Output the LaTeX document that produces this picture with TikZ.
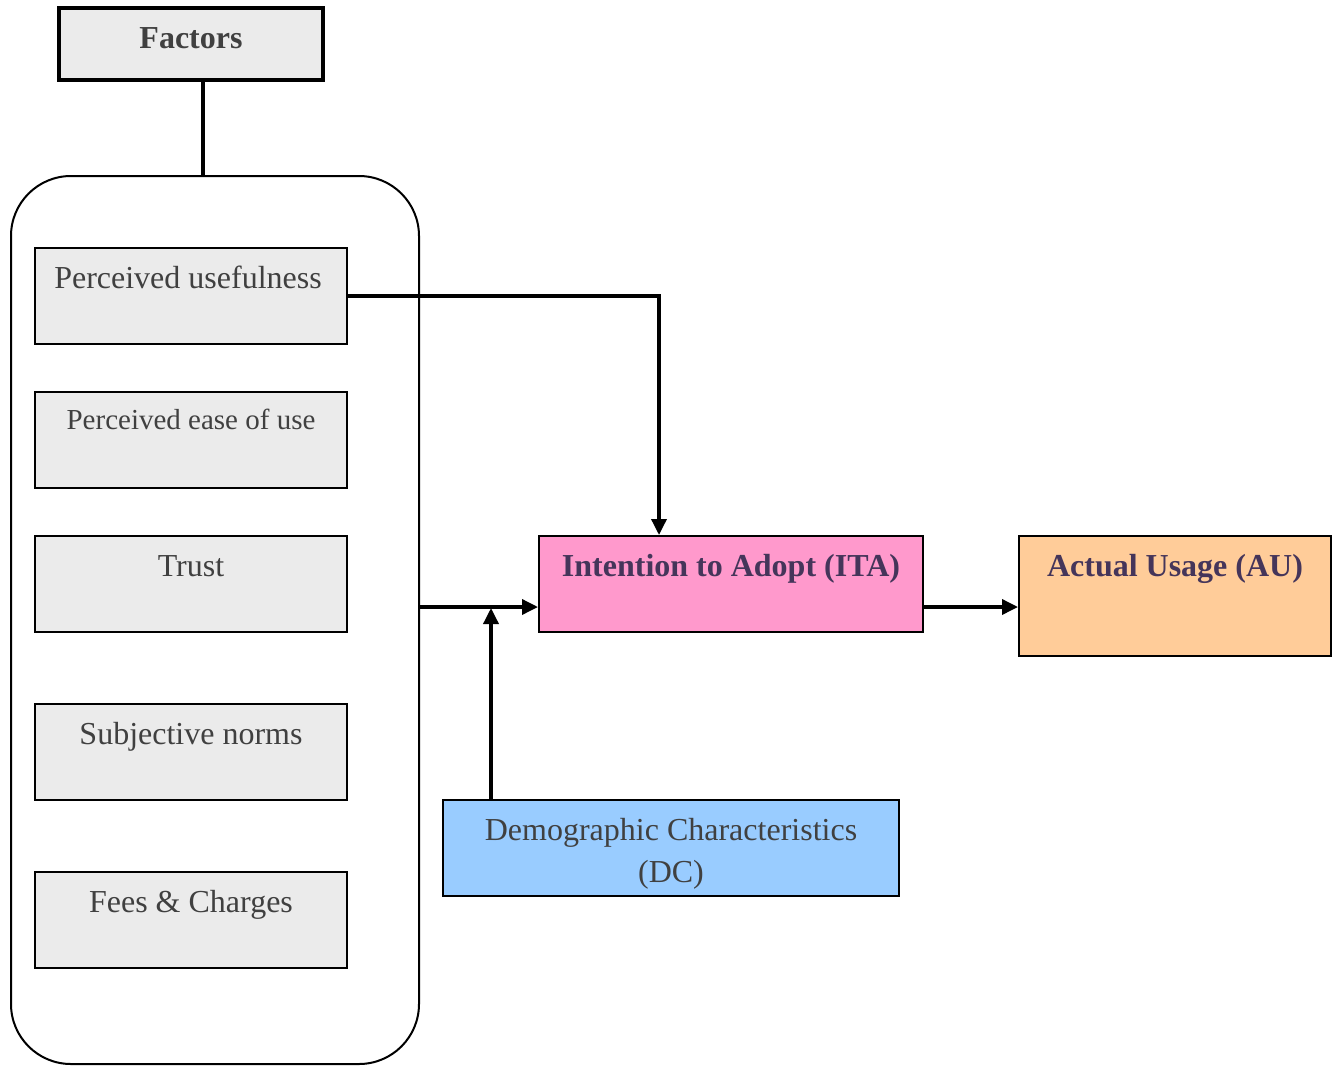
\documentclass[tikz,border=0pt]{standalone}
\usepackage{fontspec}
\setmainfont{Liberation Serif}
\usetikzlibrary{arrows.meta,calc}

\definecolor{boxgray}{HTML}{EBEBEB}
\definecolor{txtgray}{HTML}{404040}
\definecolor{txtplum}{HTML}{45355A}
\definecolor{itapink}{HTML}{FF99CC}
\definecolor{auorange}{HTML}{FFCC99}
\definecolor{dcblue}{HTML}{99CCFF}

\tikzset{
  factorbox/.style={draw, line width=2pt, fill=boxgray, inner sep=0pt,
    minimum width=312pt, minimum height=96pt},
  outcomebox/.style={draw, line width=2pt, inner sep=0pt},
  boxtext/.style={anchor=base, inner sep=0pt, text=txtgray, font=\fontsize{32}{38}\selectfont},
  boldtext/.style={anchor=base, inner sep=0pt, text=txtplum, font=\fontsize{32}{38}\selectfont\bfseries},
  link/.style={line width=3.5pt},
  arrowlink/.style={line width=3.5pt, -{Triangle[length=16pt,width=15pt]}},
}

\begin{document}
\begin{tikzpicture}[x=1pt,y=-1pt]
\useasboundingbox (0,0) rectangle (1335,1068);

% heading box
\node[draw, line width=4pt, fill=boxgray, inner sep=0pt,
  minimum width=264pt, minimum height=72pt] (factors) at (191,44) {};
\node[boldtext, text=txtgray] (factorslbl) at (191,48) {Factors};

% rounded container holding the factor boxes
\node[draw, line width=2pt, rounded corners=60pt, inner sep=0pt,
  minimum width=408pt, minimum height=888pt] (group) at (215,620) {};

\node[factorbox] (pu) at (191,296) {};
\node[boxtext] at (188,288) {Perceived usefulness};
\node[factorbox] (peou) at (191,440) {};
\node[boxtext, font=\fontsize{29}{34}\selectfont] at (191,429) {Perceived ease of use};
\node[factorbox] (trust) at (191,584) {};
\node[boxtext] at (191,576) {Trust};
\node[factorbox] (sn) at (191,752) {};
\node[boxtext] at (191,744) {Subjective norms};
\node[factorbox] (fc) at (191,920) {};
\node[boxtext] at (191,912) {Fees \& Charges};

% constructs
\node[outcomebox, fill=itapink, minimum width=384pt, minimum height=96pt] (ita) at (731,584) {};
\node[boldtext] at (731,576) {Intention to Adopt (ITA)};
\node[outcomebox, fill=auorange, minimum width=312pt, minimum height=120pt] (au) at (1175,596) {};
\node[boldtext] at (1175,576) {Actual Usage (AU)};
\node[outcomebox, fill=dcblue, minimum width=456pt, minimum height=96pt] (dc) at (671,848) {};
\node[boxtext] at (671,840) {Demographic Characteristics};
\node[boxtext] at (671,882) {(DC)};

% connectors
\draw[link] (factors.south -| 203,0) -- (group.north -| 203,0);
\coordinate (bend) at (659,296);
\draw[arrowlink] (pu.east) -- (bend) -- (ita.north -| bend);
\coordinate (itain) at ($(ita.west)+(0,23)$);
\draw[arrowlink] (group.east |- itain) -- (itain);
\draw[arrowlink] (dc.north -| 491,0) -- (491,608);
\draw[arrowlink] (ita.east |- itain) -- (au.west |- itain);
\end{tikzpicture}
\end{document}
